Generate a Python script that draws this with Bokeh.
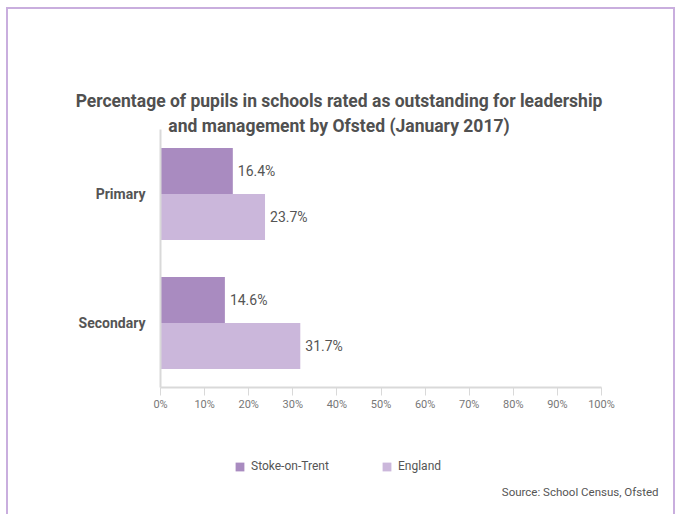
from bokeh.plotting import figure
from bokeh.models import (Range1d, Label, ColumnDataSource, Legend, LegendItem,
                          PrintfTickFormatter, FixedTicker)
from bokeh.core.properties import value
from bokeh.transform import dodge
from bokeh.embed import file_html
from bokeh.resources import INLINE

# ---- data ----
categories = ["Primary", "Secondary"]
stoke = [16.4, 14.6]
england = [23.7, 31.7]
series_names = ["Stoke-on-Trent", "England"]
x_ticks = [0, 10, 20, 30, 40, 50, 60, 70, 80, 90, 100]
title_lines = ["Percentage of pupils in schools rated as outstanding for leadership",
               "and management by Ofsted (January 2017)"]
source_note = "Source: School Census, Ofsted"

FONT = "Roboto"
C_STOKE = "#a98bc0"
C_ENG = "#cbb7db"
TXT = "#555555"
AX = "#d9d9d9"

n = len(categories)
ypos = [n - 0.5 - i for i in range(n)]          # category slots, top to bottom

src = ColumnDataSource(dict(
    cat=categories, y=ypos, stoke=stoke, england=england,
    stoke_lbl=[f"{v}%" for v in stoke], eng_lbl=[f"{v}%" for v in england]))

W, H = 669, 507
FL, FB = 152, 129            # where the axes cross, in canvas pixels from left / bottom
PX_X = 4.41                  # pixels per percent
PX_Y = 129.0                 # pixels per category slot

p = figure(width=W, height=H,
           x_range=Range1d(-FL / PX_X, (W - FL) / PX_X),
           y_range=Range1d(-FB / PX_Y, (H - FB) / PX_Y),
           output_backend="svg", toolbar_location=None,
           min_border_left=0, min_border_right=0, min_border_top=0, min_border_bottom=0)
p.styles = {"margin-left": "6px", "margin-top": "7px",
            "border-left": "2px solid #c9aede", "border-top": "2px solid #c9aede",
            "border-right": "2px solid #c9aede"}

off = 0.178
bh = 0.356
r1 = p.hbar(y=dodge("y", off), left=0, right="stoke", height=bh,
            source=src, fill_color=C_STOKE, line_color=None)
r2 = p.hbar(y=dodge("y", -off), left=0, right="england", height=bh,
            source=src, fill_color=C_ENG, line_color=None)

for col, lbl, o in (("stoke", "stoke_lbl", off), ("england", "eng_lbl", -off)):
    p.text(x=col, y=dodge("y", o), text=lbl, source=src,
           x_offset=5, text_baseline="middle", text_align="left",
           text_font=value(FONT), text_font_size="14px", text_color=TXT)

xa = p.xaxis[0]
xa.fixed_location = 0
xa.bounds = (0, 100)
xa.ticker = FixedTicker(ticks=x_ticks)
xa.formatter = PrintfTickFormatter(format="%d%%")
xa.major_tick_out = 8
xa.major_tick_in = 0
xa.minor_tick_line_color = None
xa.axis_line_color = AX
xa.axis_line_width = 2
xa.major_tick_line_color = AX
xa.major_label_text_font = FONT
xa.major_label_text_font_size = "11px"
xa.major_label_text_color = "#777777"
xa.major_label_standoff = 2

ya = p.yaxis[0]
ya.fixed_location = 0
ya.bounds = (0, n)
ya.ticker = FixedTicker(ticks=ypos)
ya.major_label_overrides = {yv: c for yv, c in zip(ypos, categories)}
ya.major_tick_line_color = None
ya.minor_tick_line_color = None
ya.axis_line_color = AX
ya.axis_line_width = 2
ya.major_label_text_font = FONT
ya.major_label_text_font_style = "bold"
ya.major_label_text_font_size = "14px"
ya.major_label_text_color = TXT
ya.major_label_standoff = 9

p.xgrid.grid_line_color = None
p.ygrid.grid_line_color = None
p.outline_line_color = None

for i, line in enumerate(title_lines):
    p.add_layout(Label(x=330.5, y=416 - 25 * i, x_units="screen", y_units="screen",
                       text=line, text_align="center", text_baseline="middle",
                       text_font=FONT, text_font_style="bold", text_font_size="17.5px",
                       text_color="#505050"))

p.add_layout(Label(x=650, y=25, x_units="screen", y_units="screen", text=source_note,
                   text_align="right", text_baseline="middle", text_font=FONT,
                   text_font_size="11.5px", text_color=TXT))

leg = Legend(items=[LegendItem(label=series_names[0], renderers=[r1]),
                    LegendItem(label=series_names[1], renderers=[r2])],
             location=(226, 43), orientation="horizontal", border_line_color=None,
             background_fill_alpha=0, padding=0, margin=0, spacing=0,
             glyph_width=11, glyph_height=11, label_standoff=6, label_width=130,
             label_text_font=FONT, label_text_font_size="12px",
             label_text_color=TXT)
p.add_layout(leg)

open("out.html", "w").write(file_html(p, INLINE))
